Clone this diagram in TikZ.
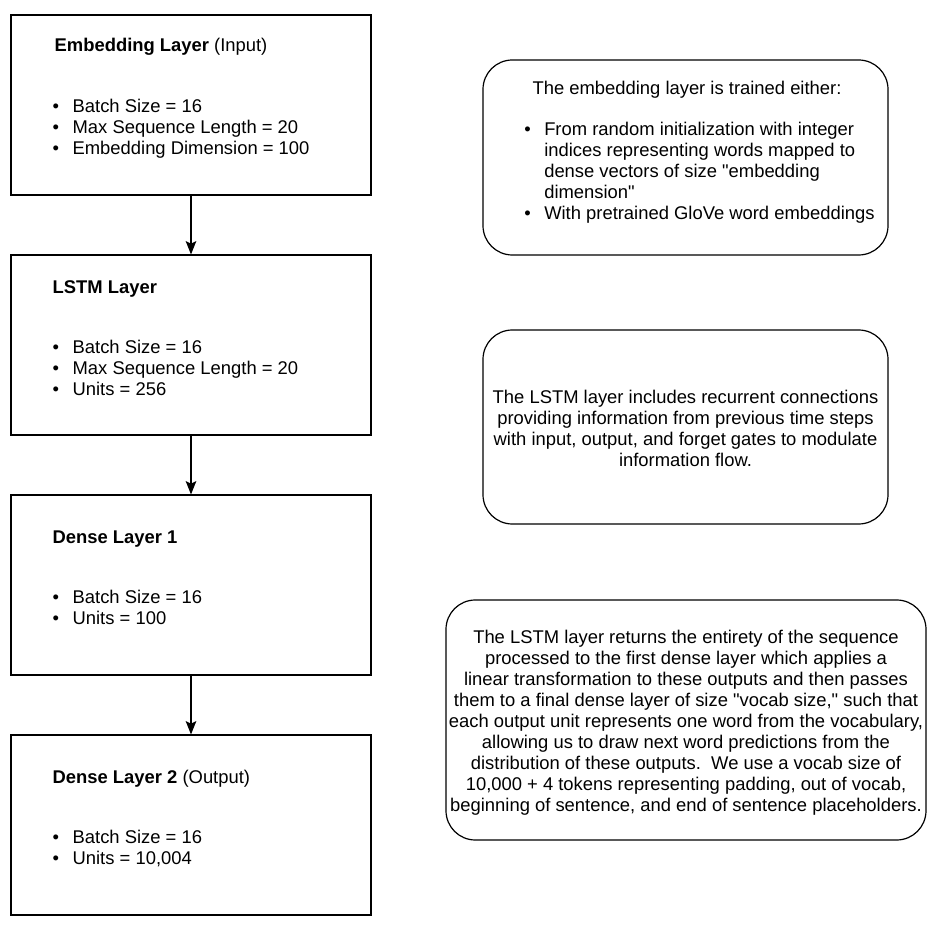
\documentclass[tikz,border=0pt]{standalone}
\usepackage{fontspec}
\setmainfont{Liberation Sans}[Ligatures=TeXOff]
\usepackage{tikz}
\usetikzlibrary{arrows.meta, positioning}

\newcommand{\bul}{\makebox[15pt][l]{\textbullet}}

\begin{document}
\begin{tikzpicture}[
    x=0.75pt, y=0.75pt,
    font=\fontsize{13.8}{15.75}\selectfont,
    node distance=44.1pt,
    layer/.style={
        draw,
        minimum width=270pt,
        minimum height=135pt,
        line width=0.9pt
    },
    note/.style={
        draw,
        rounded corners=22pt,
        line width=0.9pt
    },
    ttl/.style={anchor=west, inner sep=0pt},
    lst/.style={anchor=west, inner sep=0pt, align=left},
    txt/.style={inner sep=0pt, align=center},
    arrow/.style={
        -{Stealth[length=10pt, width=8pt, inset=2pt]},
        line width=0.9pt
    }
]
\useasboundingbox (0,0) rectangle (936,-930);

\node[layer] (emb) at (191,-105) {};
\node[layer, below=of emb] (lstm) {};
\node[layer, below=of lstm] (dense1) {};
\node[layer, below=of dense1] (dense2) {};

\node[ttl] (embT) at ([shift={(44,-32)}]emb.north west) {\textbf{Embedding Layer} (Input)};
\node[lst] (embL) at ([shift={(42,-114.5)}]emb.north west) {\bul Batch Size = 16\\\bul Max Sequence Length = 20\\\bul Embedding Dimension = 100};

\node[ttl] (lstmT) at ([shift={(42,-35)}]lstm.north west) {\textbf{LSTM Layer}};
\node[lst] (lstmL) at ([shift={(42,-113.5)}]lstm.north west) {\bul Batch Size = 16\\\bul Max Sequence Length = 20\\\bul Units = 256};

\node[ttl] (dense1T) at ([shift={(42,-45)}]dense1.north west) {\textbf{Dense Layer 1}};
\node[lst] (dense1L) at ([shift={(42,-113)}]dense1.north west) {\bul Batch Size = 16\\\bul Units = 100};

\node[ttl] (dense2T) at ([shift={(42,-44)}]dense2.north west) {\textbf{Dense Layer 2} (Output)};
\node[lst] (dense2L) at ([shift={(42,-114)}]dense2.north west) {\bul Batch Size = 16\\\bul Units = 10,004};

\draw[arrow] (emb) -- (lstm);
\draw[arrow] (lstm) -- (dense1);
\draw[arrow] (dense1) -- (dense2);

% notes on the right
\node[note, minimum width=303.75pt, minimum height=146.25pt] (embNote) at (685.5,-157.5) {};
\node[txt] (embNoteT) at (687,-90) {The embedding layer is trained either:};
\node[lst] (embNoteL) at (524,-172.5) {\bul From random initialization with integer\\\hspace*{15pt}indices representing words mapped to\\\hspace*{15pt}dense vectors of size "embedding\\\hspace*{15pt}dimension"\\\bul With pretrained GloVe word embeddings};

\node[note, minimum width=303.75pt, minimum height=145.5pt] (lstmNote) at (685.5,-427) {};
\node[txt] (lstmNoteT) at (685.5,-428.5) {The LSTM layer includes recurrent connections\\providing information from previous time steps\\with input, output, and forget gates to modulate\\information flow.};

\node[note, minimum width=360pt, minimum height=180pt] (denseNote) at (686,-720) {};
\node[txt] (denseNoteT) at (686,-723) {The LSTM layer returns the entirety of the sequence\\processed to the first dense layer which applies a\\linear transformation to these outputs and then passes\\them to a final dense layer of size "vocab size," such that\\each output unit represents one word from the vocabulary,\\allowing us to draw next word predictions from the\\distribution of these outputs.\ \ We use a vocab size of\\10,000 + 4 tokens representing padding, out of vocab,\\beginning of sentence, and end of sentence placeholders.};

\end{tikzpicture}
\end{document}
